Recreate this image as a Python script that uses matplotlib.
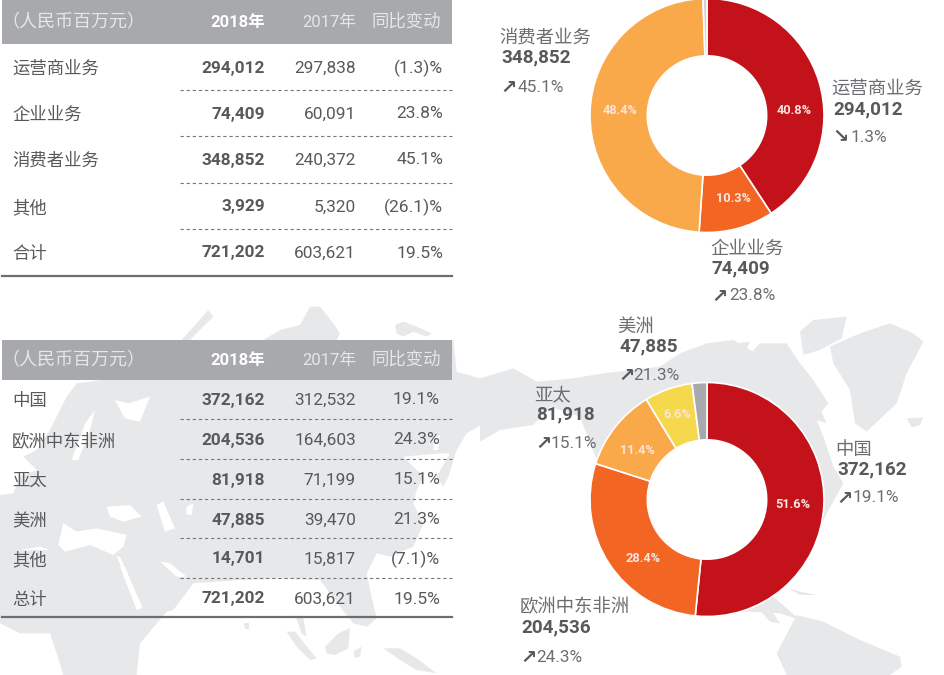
import matplotlib
matplotlib.use("Agg")
import matplotlib.pyplot as plt
from matplotlib.patches import Rectangle, Polygon, Circle

plt.rcParams['font.family'] = ['Noto Sans CJK SC', 'DejaVu Sans']
NUM = ['Roboto', 'Noto Sans CJK SC', 'DejaVu Sans']

# ---- data ----
header = ["（人民币百万元）", "2018年", "2017年", "同比变动"]
biz_names = ["运营商业务", "企业业务", "消费者业务", "其他", "合计"]
biz_2018 = [294012, 74409, 348852, 3929, 721202]
biz_2017 = [297838, 60091, 240372, 5320, 603621]
biz_change = ["(1.3)%", "23.8%", "45.1%", "(26.1)%", "19.5%"]
geo_names = ["中国", "欧洲中东非洲", "亚太", "美洲", "其他", "总计"]
geo_2018 = [372162, 204536, 81918, 47885, 14701, 721202]
geo_2017 = [312532, 164603, 71199, 39470, 15817, 603621]
geo_change = ["19.1%", "24.3%", "15.1%", "21.3%", "(7.1)%", "19.5%"]
biz_share = ["40.8%", "10.3%", "48.4%"]
geo_share = ["51.6%", "28.4%", "11.4%", "6.6%"]
biz_arrow = ["↘", "↗", "↗"]
biz_trend = ["1.3%", "23.8%", "45.1%"]
geo_arrow = ["↗", "↗", "↗", "↗"]
geo_trend = ["19.1%", "24.3%", "15.1%", "21.3%"]

# ---- style ----
TXT = "#58595b"; HDR = "#a7a9ac"; LAND = "#e7e8ea"
biz_colors = ["#c4121a", "#f26522", "#faa94a", "#d1d3d4"]
geo_colors = ["#c4121a", "#f26522", "#faa94a", "#f6d84c", "#a7a9ac"]

W, H = 945, 675
fig = plt.figure(figsize=(W / 100, H / 100), dpi=100, facecolor="white")
ax = fig.add_axes([0, 0, 1, 1])
ax.set_xlim(0, W); ax.set_ylim(H, 0); ax.axis("off")

# ---- decorative world map backdrop (traced in 3x crop coordinates) ----
def crop(points, ox, oy):
    return [(ox + x / 3, oy + y / 3) for x, y in points]

land = [
    # Eurasia (crop origin 0,290; x>720 runs on into the next crop)
    crop([(0,615),(40,610),(60,560),(110,540),(70,500),(110,480),(150,420),(200,320),(230,280),(340,265),
          (420,265),(480,215),(545,150),(625,60),(640,80),(570,150),(790,150),(840,120),(900,105),(930,50),
          (960,50),(1000,100),(1020,130),(1010,150),(1360,150),(1370,245),(1440,265),(1500,265),(1500,340),
          (1450,400),(1400,430),(1370,480),(1345,560),(1330,590),(1310,560),(1350,490),(1320,490),(1210,500),
          (1270,560),(1250,600),(1240,640),(1270,700),(1240,770),(1170,800),(1130,790),(1100,850),(1110,900),
          (1130,985),(1100,1010),(1060,1000),(1020,950),(960,870),(840,865),(720,870),(580,880),(520,960),
          (440,980),(360,800),(180,790),(120,770),(0,790)], 0, 290),
    # Africa
    crop([(0,780),(180,780),(350,800),(420,950),(500,965),(420,1060),(410,1155),(190,1155),(170,1090),
          (150,1030),(60,1030),(0,1000)], 0, 290),
    # Kara / New Siberian islands
    crop([(465,105),(490,95),(530,110),(575,130),(560,140),(520,125),(490,140),(470,130)], 240, 290),
    # Sri Lanka, Malaya-Sumatra, Borneo, New Guinea
    crop([(12,1000),(28,1000),(28,1018),(15,1018)], 240, 290),
    crop([(140,1025),(165,1025),(205,1075),(230,1105),(210,1110),(170,1070)], 240, 290),
    crop([(165,975),(190,985),(200,1040),(185,1030)], 240, 290),
    crop([(255,1070),(295,1030),(330,1015),(325,1075),(285,1095),(260,1090)], 240, 290),
    crop([(430,1075),(480,1075),(530,1105),(590,1150),(530,1140),(480,1110)], 240, 290),
    crop([(340,1085),(365,1070),(360,1100),(345,1105)], 240, 290),
    # Alaska + North America (crop origin 480,310)
    crop([(0,205),(100,175),(170,215),(280,205),(370,190),(540,170),(600,130),(680,100),(760,90),(820,125),
          (900,130),(960,160),(1000,250),(1040,340),(1010,330),(1030,380),(1060,470),(1090,520),(1040,610),
          (1000,700),(900,800),(880,860),(960,930),(900,910),(700,900),(500,700),(350,450),(300,320),
          (210,290),(160,345),(60,360),(0,395)], 480, 310),
    # Baffin etc (crop origin 700,300)
    crop([(160,150),(180,130),(260,130),(300,190),(340,240),(385,310),(360,340),(310,280),(230,220),(170,200)], 700, 300),
    crop([(300,95),(340,60),(440,50),(425,115),(360,150),(310,165)], 700, 300),
    crop([(50,140),(90,125),(105,185),(75,195)], 700, 300),
    crop([(110,130),(150,125),(130,170)], 700, 300),
    # Greenland + Iceland
    crop([(390,140),(480,100),(570,70),(640,100),(670,125),(620,220),(590,310),(500,395),(465,370),(450,270),
          (400,190)], 700, 300),
    crop([(620,355),(670,352),(660,375),(635,382)], 700, 300),
    # Caribbean + South America
    crop([(265,865),(300,875),(350,885),(300,885)], 700, 300),
    crop([(170,920),(200,910),(240,970),(210,965)], 700, 300),
    crop([(230,1060),(290,945),(370,965),(480,1020),(600,1070),(605,1100),(570,1125),(260,1125)], 700, 300),
]
for poly in land:
    ax.add_patch(Polygon(poly, closed=True, fc=LAND, ec="none", zorder=0))

# inland seas
seas = [
    crop([(360,830),(375,830),(425,955),(410,960)], 0, 290),                   # Red Sea
    crop([(480,815),(510,820),(560,860),(530,860)], 0, 290),                   # Gulf
    crop([(175,765),(190,700),(230,725),(290,715),(380,735),(370,770),(340,795),(270,765),(195,785)], 0, 290),  # Med.
    crop([(320,650),(390,645),(425,680),(370,695),(330,680)], 0, 290),         # Black Sea
    crop([(470,645),(490,635),(525,715),(495,725)], 0, 290),                   # Caspian
    crop([(560,650),(580,640),(575,675),(558,672)], 0, 290),                   # Aral
    crop([(215,510),(255,400),(285,360),(270,420),(235,510)], 0, 290),         # Baltic
    crop([(345,330),(385,340),(450,320),(420,395),(375,385)], 0, 290),         # White Sea
    crop([(1300,445),(1320,435),(1315,480),(1300,480)], 0, 290),
]
for poly in seas:
    ax.add_patch(Polygon(poly, closed=True, fc="white", ec="none", zorder=0.5))

def table(top, bottom, rows_y, dash_y, rule_y, names, v18, v17, chg, chg_right):
    ax.add_patch(Rectangle((2, top), 450, bottom - top, fc=HDR, ec="none", zorder=1))
    ym = (top + bottom) / 2
    ax.text(1, ym, header[0], color="#e6e7e8", fontsize=13, va="center", ha="left", zorder=3)
    ax.text(265, ym, header[1], color="white", fontsize=12, fontweight="bold", family=NUM, va="center", ha="right", zorder=3)
    ax.text(356, ym, header[2], color="#e6e7e8", fontsize=12, family=NUM, va="center", ha="right", zorder=3)
    ax.text(441, ym, header[3], color="#e6e7e8", fontsize=12.5, va="center", ha="right", zorder=3)
    for y, n, a, b, c in zip(rows_y, names, v18, v17, chg):
        ax.text(12, y + 1, n, color=TXT, fontsize=12.5, va="center", ha="left", zorder=3)
        ax.text(265, y, f"{a:,}", color=TXT, fontsize=12.4, fontweight="bold", family=NUM, va="center", ha="right", zorder=3)
        ax.text(356, y, f"{b:,}", color=TXT, fontsize=12.4, family=NUM, va="center", ha="right", zorder=3)
        ax.text(chg_right, y, c, color=TXT, fontsize=12.6, family=NUM, va="center", ha="right", zorder=3)
    for y in dash_y:
        ax.plot([180, 452], [y, y], color="#77787b", lw=0.8, ls=(0, (3, 2.5)), zorder=2)
    ax.plot([2, 452], [rule_y, rule_y], color="#6d6e71", lw=1.6, zorder=2)

table(0, 44, [68, 114, 160, 207, 253], [90, 136, 183, 229], 276,
      biz_names, biz_2018, biz_2017, biz_change, 443)
table(340, 380, [400, 440, 480, 520, 559, 599], [419, 459, 499, 538, 578], 617,
      geo_names, geo_2018, geo_2017, geo_change, 440)

def donut(cx, cy, r, vals, colors):
    a = fig.add_axes([(cx - r) / W, 1 - (cy + r) / H, 2 * r / W, 2 * r / H], zorder=1)
    a.pie(vals, colors=colors, startangle=90, counterclock=False, radius=1,
          wedgeprops=dict(width=0.49, edgecolor="white", linewidth=1.2))
    a.add_patch(Circle((0, 0), 0.51, fc="white", ec="none", zorder=5))
    a.set_xlim(-1.0, 1.0); a.set_ylim(-1.0, 1.0)
    a.set_aspect("equal"); a.patch.set_alpha(0)

donut(707, 115.5, 117, biz_2018[:4], biz_colors)
donut(707, 499.5, 117, geo_2018[:5], geo_colors)

top = fig.add_axes([0, 0, 1, 1], zorder=2)
top.set_xlim(0, W); top.set_ylim(H, 0); top.axis("off"); top.patch.set_alpha(0)

for (x, y), s in zip([(794, 110), (733, 199), (620, 110)], biz_share):
    top.text(x, y, s, color="#fbe4e0", fontsize=9.2, fontweight="bold", family=NUM, ha="center", va="center")
for (x, y), s in zip([(793, 504), (643, 559), (637, 450), (677, 414)], geo_share):
    top.text(x, y, s, color="#fbe4e0", fontsize=9.2, fontweight="bold", family=NUM, ha="center", va="center")

def callout(x, y0, y1, y2, name, val, arrow, trend, gap):
    top.text(x - 1.5, y0 + 1, name, color="#6d6e71", fontsize=13.2, ha="left", va="center")
    top.text(x, y1, f"{val:,}", color=TXT, fontsize=13.6, fontweight="bold", family=NUM, ha="left", va="center")
    top.text(x - 1, y2, arrow, color=TXT, fontsize=14, fontweight="bold", family=['DejaVu Sans'], ha="left", va="center")
    top.text(x + gap, y2, trend, color="#6d6e71", fontsize=12.4, family=NUM, ha="left", va="center")

callout(833, 88, 109, 137, biz_names[0], biz_2018[0], biz_arrow[0], biz_trend[0], 17)
callout(712, 248, 268, 296, biz_names[1], biz_2018[1], biz_arrow[1], biz_trend[1], 17)
callout(501, 37, 57, 87, biz_names[2], biz_2018[2], biz_arrow[2], biz_trend[2], 17)
callout(837, 449, 469, 498, geo_names[0], geo_2018[0], geo_arrow[0], geo_trend[0], 15)
callout(521, 606, 627, 657, geo_names[1], geo_2018[1], geo_arrow[1], geo_trend[1], 15)
callout(536, 394, 414, 443, geo_names[2], geo_2018[2], geo_arrow[2], geo_trend[2], 15)
callout(619, 326, 346, 375, geo_names[3], geo_2018[3], geo_arrow[3], geo_trend[3], 14)

fig.savefig("out.png", dpi=100, facecolor="white")
